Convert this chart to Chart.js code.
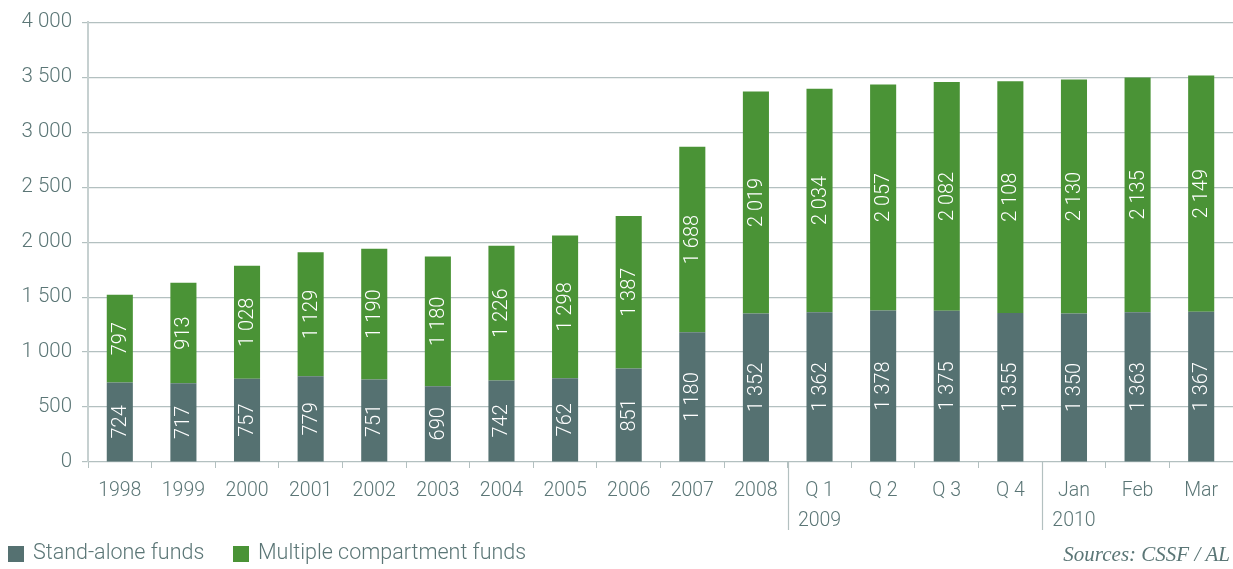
<!DOCTYPE html>
<html>
<head>
<meta charset="utf-8">
<script src="https://cdn.jsdelivr.net/npm/chart.js@4"></script>
<style>
  html, body { margin: 0; padding: 0; background: #fff; }
  #wrap { position: relative; width: 1233px; height: 569px; }
</style>
</head>
<body>
<div id="wrap"><canvas id="myChart"></canvas></div>
<script>
const categories = ['1998', '1999', '2000', '2001', '2002', '2003', '2004', '2005', '2006', '2007', '2008',
  ['Q 1', '2009'], 'Q 2', 'Q 3', 'Q 4', ['Jan', '2010'], 'Feb', 'Mar'];
const standAlone = [724, 717, 757, 779, 751, 690, 742, 762, 851, 1180, 1352, 1362, 1378, 1375, 1355, 1350, 1363, 1367];
const multiple = [797, 913, 1028, 1129, 1190, 1180, 1226, 1298, 1387, 1688, 2019, 2034, 2057, 2082, 2108, 2130, 2135, 2149];
const seriesNames = ['Stand-alone funds', 'Multiple compartment funds'];
const dividersAfter = [10, 14]; // after 2008 and after Q 4

const textColor = '#5b7676';
const gridColor = '#b3c0c0';
const fontFamily = 'Roboto, "Liberation Sans", sans-serif';

Chart.defaults.color = textColor;
Chart.defaults.font.family = fontFamily;
Chart.defaults.font.weight = 300;

const fmt = v => String(v).replace(/\B(?=(\d{3})+(?!\d))/g, ' ');

// value labels inside bars, rotated
const barLabels = {
  id: 'barLabels',
  afterDatasetsDraw(chart) {
    const c = chart.ctx;
    chart.data.datasets.forEach((ds, i) => {
      chart.getDatasetMeta(i).data.forEach((bar, j) => {
        const top = Math.min(bar.y, bar.base), bottom = Math.max(bar.y, bar.base);
        c.save();
        c.translate(bar.x, (top + bottom) / 2);
        c.rotate(-Math.PI / 2);
        c.fillStyle = '#ffffff';
        c.font = '300 20px ' + fontFamily;
        c.textAlign = 'center';
        c.textBaseline = 'middle';
        c.fillText(fmt(ds.data[j]), 0, 1);
        c.restore();
      });
    });
  }
};

// year dividers, legend, sources
const extras = {
  id: 'extras',
  afterDraw(chart) {
    const c = chart.ctx;
    const x = chart.scales.x;
    const bottom = chart.chartArea.bottom;
    c.save();
    c.strokeStyle = gridColor;
    c.lineWidth = 1.2;
    dividersAfter.forEach(i => {
      const px = Math.round((x.getPixelForValue(i) + x.getPixelForValue(i + 1)) / 2) + 0.5;
      c.beginPath();
      c.moveTo(px, bottom);
      c.lineTo(px, bottom + 68);
      c.stroke();
    });

    // legend
    const colors = ['#557171', '#4a9336'];
    const legendX = [8, 233];
    c.font = '300 21.5px ' + fontFamily;
    c.textBaseline = 'middle';
    c.textAlign = 'left';
    seriesNames.forEach((n, i) => {
      c.fillStyle = colors[i];
      c.fillRect(legendX[i], 546, 16, 16);
      c.fillStyle = textColor;
      c.fillText(n, legendX[i] + 25, 554);
    });

    c.font = 'italic 21px "Liberation Serif", serif';
    c.textAlign = 'right';
    c.fillText('Sources: CSSF / AL', 1230, 555);
    c.restore();
  }
};

new Chart(document.getElementById('myChart'), {
  type: 'bar',
  data: {
    labels: categories,
    datasets: [{
      label: seriesNames[0],
      data: standAlone,
      backgroundColor: '#557171',
      barPercentage: 0.82,
      categoryPercentage: 0.5
    }, {
      label: seriesNames[1],
      data: multiple,
      backgroundColor: '#4a9336',
      barPercentage: 0.82,
      categoryPercentage: 0.5
    }]
  },
  options: {
    responsive: true,
    maintainAspectRatio: false,
    animation: false,
    layout: { padding: { top: 18, right: 0, left: 0, bottom: 0 } },
    scales: {
      x: {
        stacked: true,
        afterFit(scale) { scale.height = 107; },
        grid: {
          drawOnChartArea: false,
          drawTicks: true,
          tickLength: 6,
          color: gridColor,
          offset: true
        },
        border: { display: false },
        ticks: {
          font: { size: 19.5, weight: 300, lineHeight: 1.55 },
          color: textColor,
          padding: 8,
          maxRotation: 0,
          autoSkip: false
        }
      },
      y: {
        stacked: true,
        min: 0,
        max: 4000,
        afterFit(scale) { scale.width = 88; },
        grid: {
          color: gridColor,
          lineWidth: 1.2,
          tickLength: 6
        },
        border: { display: true, color: '#c6d0d0', width: 2 },
        ticks: {
          stepSize: 500,
          font: { size: 20.5, weight: 300 },
          color: textColor,
          padding: 10,
          callback: v => fmt(v)
        }
      }
    },
    plugins: {
      legend: { display: false },
      tooltip: { enabled: false }
    }
  },
  plugins: [barLabels, extras]
});
</script>
</body>
</html>
